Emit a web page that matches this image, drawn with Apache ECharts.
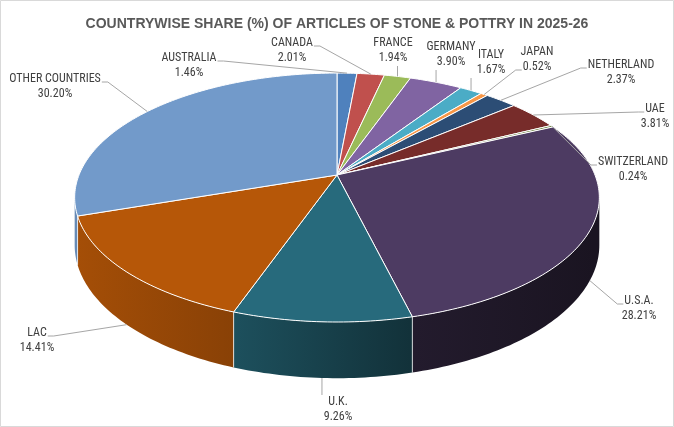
<!DOCTYPE html>
<html>
<head>
<meta charset="utf-8">
<script src="https://cdn.jsdelivr.net/npm/echarts@6/dist/echarts.min.js"></script>
<style>
html,body{margin:0;padding:0;background:#fff;}
#main{width:674px;height:427px;}
</style>
</head>
<body>
<div id="main"></div>
<script>
var countries = ['AUSTRALIA','CANADA','FRANCE','GERMANY','ITALY','JAPAN','NETHERLAND','UAE','SWITZERLAND','U.S.A.','U.K.','LAC','OTHER COUNTRIES'];
var shares = [1.46,2.01,1.94,3.90,1.67,0.52,2.37,3.81,0.24,28.21,9.26,14.41,30.20];
var colors = ['#4F81BD','#C0504D','#9BBB59','#8064A2','#4BACC6','#F79646','#2C4D75','#772C2A','#5F7530','#4D3B62','#276A7C','#B65708','#729ACA'];

// where each label block sits (centre x, first line y) and which side the leader leaves from
var labelLayout = [
  [189,58,'r'], [292,43,'r'], [393,43,'b'], [451,47,'b'], [491,55,'b'], [537,52,'l2'],
  [621,65,'l'], [655,109,'l'], [633,162,'l'], [639,301,'l'], [338,402,'t'], [37,333,'r'], [55,79,'r']
];

// tilted pie geometry
var CX = 337, CY = 175, RX = 258, RY = 120.4, K = 0.181, DEPTH = 46;
var LABEL_FONT = '"Liberation Sans Narrow", "Roboto Condensed", "Liberation Sans", sans-serif';

var total = shares.reduce(function(s, v){ return s + v; }, 0);
var startAng = [], endAng = [];
var acc = 0;
for (var i = 0; i < shares.length; i++) {
  startAng.push(acc / total * 2 * Math.PI);
  acc += shares[i];
  endAng.push(acc / total * 2 * Math.PI);
}

// angle clockwise from 12 o'clock -> screen point, drop = how far down the wall
function proj(a, drop) {
  var u = Math.sin(a), v = -Math.cos(a);
  var w = 1 - K * v;
  return [CX + RX * u / w, CY + (RY * v + drop) / w];
}
function arcPoints(a0, a1, drop) {
  var pts = [];
  var n = Math.max(2, Math.ceil((a1 - a0) / (Math.PI / 180)));
  for (var j = 0; j <= n; j++) pts.push(proj(a0 + (a1 - a0) * j / n, drop));
  return pts;
}
function shade(hex, f) {
  var n = parseInt(hex.slice(1), 16);
  var r = (n >> 16) & 255, g = (n >> 8) & 255, b = n & 255;
  return 'rgb(' + Math.round(r * f) + ',' + Math.round(g * f) + ',' + Math.round(b * f) + ')';
}

var VIS0 = Math.acos(-K), VIS1 = 2 * Math.PI - Math.acos(-K);

var ctx = document.createElement('canvas').getContext('2d');
ctx.font = '12px ' + LABEL_FONT;

function renderSide(params, api) {
  var i = params.dataIndex;
  var s0 = Math.max(startAng[i], VIS0), s1 = Math.min(endAng[i], VIS1);
  if (s1 <= s0) return { type: 'group', children: [] };
  var pts = arcPoints(s0, s1, 0).concat(arcPoints(s0, s1, DEPTH).reverse());
  var c = colors[i];
  var grad = new echarts.graphic.LinearGradient(CX - RX, 0, CX + RX, 0, [
    { offset: 0, color: shade(c, 0.9) },
    { offset: 0.3, color: shade(c, 0.75) },
    { offset: 0.65, color: shade(c, 0.46) },
    { offset: 1, color: shade(c, 0.34) }
  ], true);
  var children = [{ type: 'polygon', shape: { points: pts }, style: { fill: grad } }];
  if (startAng[i] > VIS0 && startAng[i] < VIS1) {
    var p0 = proj(startAng[i], 0), p1 = proj(startAng[i], DEPTH);
    children.push({ type: 'line', shape: { x1: p0[0], y1: p0[1], x2: p1[0], y2: p1[1] },
      style: { stroke: 'rgba(255,255,255,0.75)', lineWidth: 1 } });
  }
  return { type: 'group', children: children };
}

function renderTop(params, api) {
  var i = params.dataIndex;
  var pts = [[CX, CY]].concat(arcPoints(startAng[i], endAng[i], 0));
  return { type: 'polygon', shape: { points: pts },
    style: { fill: colors[i], stroke: '#ffffff', lineWidth: 1, lineJoin: 'round' } };
}

function renderLabel(params, api) {
  var i = params.dataIndex;
  var lay = labelLayout[i];
  var mid = (startAng[i] + endAng[i]) / 2;
  var anchor = proj(mid, -Math.cos(mid) > 0 ? DEPTH : 0);
  var t1 = countries[i], t2 = shares[i].toFixed(2) + '%';
  var w1 = ctx.measureText(t1).width, w2 = ctx.measureText(t2).width;
  var x = lay[0], y = lay[1], side = lay[2], sx, pts;
  if (side === 'r') { sx = x + w1 / 2 + 1; pts = [[sx, y + 3], [sx + 6, y + 3], anchor]; }
  else if (side === 'l') { sx = x - w1 / 2 - 1; pts = [[sx, y + 3], [sx - 6, y + 3], anchor]; }
  else if (side === 'l2') { sx = x - w2 / 2 - 1; pts = [[sx, y + 18], [sx - 6, y + 18], anchor]; }
  else if (side === 'b') { pts = [[anchor[0], y + 23], anchor]; }
  else { pts = [[anchor[0], y - 7], anchor]; }
  var font = '12px ' + LABEL_FONT;
  return { type: 'group', children: [
    { type: 'polyline', shape: { points: pts }, style: { stroke: '#A6A6A6', lineWidth: 1, fill: null } },
    { type: 'text', style: { text: t1, x: x, y: y, align: 'center', verticalAlign: 'middle', font: font, fill: '#404040' } },
    { type: 'text', style: { text: t2, x: x, y: y + 15, align: 'center', verticalAlign: 'middle', font: font, fill: '#404040' } }
  ] };
}

var seriesData = shares.map(function(v, i){ return [i, v]; });

var dom = document.getElementById('main');
var myChart = echarts.init(dom);
var option = {
  animation: false,
  backgroundColor: '#ffffff',
  title: {
    text: 'COUNTRYWISE SHARE (%) OF ARTICLES OF STONE & POTTRY IN 2025-26',
    left: 'center',
    top: 12,
    textStyle: { fontSize: 14, fontWeight: 'bold', color: '#595959', fontFamily: '"Liberation Sans Narrow", "Liberation Sans", sans-serif' }
  },
  graphic: [{
    type: 'rect', shape: { x: 0.5, y: 0.5, width: 673, height: 426 },
    style: { fill: null, stroke: '#D9D9D9', lineWidth: 1 }, silent: true, z: 0
  }],
  series: [
    { type: 'custom', name: 'side', coordinateSystem: 'none', silent: true, z: 1, data: seriesData, renderItem: renderSide },
    { type: 'custom', name: 'top', coordinateSystem: 'none', silent: true, z: 2, data: seriesData, renderItem: renderTop },
    { type: 'custom', name: 'label', coordinateSystem: 'none', silent: true, z: 3, data: seriesData, renderItem: renderLabel }
  ]
};
if (option && typeof option === "object") {
  myChart.setOption(option, true);
}
</script>
</body>
</html>
